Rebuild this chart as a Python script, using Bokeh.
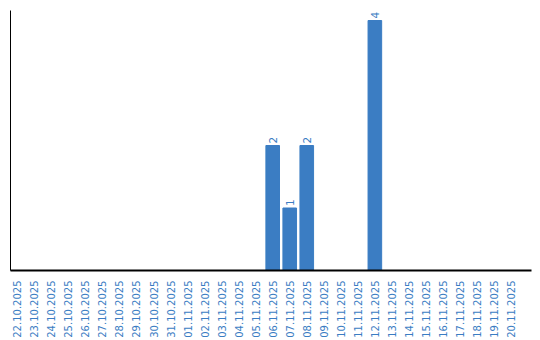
import math
from bokeh.plotting import figure
from bokeh.models import ColumnDataSource, Range1d, FixedTicker
from bokeh.core.properties import value
from bokeh.embed import file_html
from bokeh.resources import INLINE

dates = ["22.10.2025", "23.10.2025", "24.10.2025", "25.10.2025", "26.10.2025",
         "27.10.2025", "28.10.2025", "29.10.2025", "30.10.2025", "31.10.2025",
         "01.11.2025", "02.11.2025", "03.11.2025", "04.11.2025", "05.11.2025",
         "06.11.2025", "07.11.2025", "08.11.2025", "09.11.2025", "10.11.2025",
         "11.11.2025", "12.11.2025", "13.11.2025", "14.11.2025", "15.11.2025",
         "16.11.2025", "17.11.2025", "18.11.2025", "19.11.2025", "20.11.2025"]
counts = [0, 0, 0, 0, 0, 0, 0, 0, 0, 0,
          0, 0, 0, 0, 0, 2, 1, 2, 0, 0,
          0, 4, 0, 0, 0, 0, 0, 0, 0, 0]

BLUE = "#3b7dc3"
xs = list(range(len(dates)))
src = ColumnDataSource(dict(x=xs, y=counts))
nz = [i for i, c in enumerate(counts) if c > 0]
lab = ColumnDataSource(dict(x=[xs[i] for i in nz], y=[counts[i] for i in nz],
                            t=[str(counts[i]) for i in nz]))

p = figure(width=540, height=340, output_backend="svg", toolbar_location=None,
           x_range=Range1d(-0.4, 30.2), y_range=Range1d(0, 4.16),
           min_border_left=10, min_border_right=9, min_border_top=10, min_border_bottom=0)
p.vbar(x="x", top="y", width=0.8, source=src, color=BLUE)
p.text(x="x", y="y", text="t", source=lab, angle=math.pi / 2, text_align="left",
       text_baseline="middle", y_offset=-2, text_color=BLUE, text_font_size="10.5px",
       text_font=value("DejaVu Sans"))

p.xgrid.visible = False
p.ygrid.visible = False
p.outline_line_color = None

xa = p.xaxis[0]
xa.ticker = FixedTicker(ticks=xs)
xa.major_label_overrides = {i: d for i, d in enumerate(dates)}
xa.major_label_orientation = math.pi / 2
xa.major_tick_line_color = None
xa.minor_tick_line_color = None
xa.major_label_text_color = BLUE
xa.major_label_text_font = "DejaVu Sans"
xa.major_label_text_font_size = "10px"
xa.major_label_standoff = 4
xa.axis_line_color = "black"
xa.axis_line_width = 2

ya = p.yaxis[0]
ya.major_tick_line_color = None
ya.minor_tick_line_color = None
ya.major_label_text_font_size = "0px"
ya.major_label_text_color = None
ya.axis_line_color = "black"
ya.axis_line_width = 1

open("out.html", "w").write(file_html(p, INLINE))
